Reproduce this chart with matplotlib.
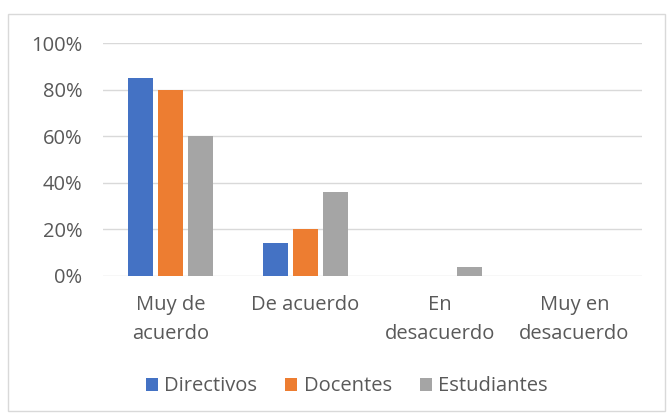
import numpy as np
import matplotlib.pyplot as plt
from matplotlib.patches import Rectangle
from matplotlib.ticker import PercentFormatter

categories = ["Muy de\nacuerdo", "De acuerdo", "En\ndesacuerdo", "Muy en\ndesacuerdo"]
directivos = [85, 14, 0, 0]
docentes = [80, 20, 0, 0]
estudiantes = [60, 36, 4, 0]

series = [("Directivos", directivos, "#4472c4"),
          ("Docentes", docentes, "#ed7d31"),
          ("Estudiantes", estudiantes, "#a5a5a5")]

plt.rcParams['font.family'] = ['Open Sans', 'DejaVu Sans']
txt = "#595959"
fs = 14.5

fig = plt.figure(figsize=(6.67, 4.2), dpi=100)
fig.patches.append(Rectangle((0.012, 0.022), 0.985, 0.945, transform=fig.transFigure,
                             fill=False, edgecolor="#d9d9d9", linewidth=1))
ax = fig.add_axes([0.1544, 0.3429, 0.808, 0.5547])

x = np.arange(len(categories))
w = 0.185
step = 0.223
for i, (name, vals, col) in enumerate(series):
    ax.bar(x + (i - 1) * step, vals, width=w, color=col, label=name, zorder=3)

ax.set_xlim(-0.5, 3.5)
ax.set_ylim(0, 100)
ax.set_yticks([0, 20, 40, 60, 80, 100])
ax.yaxis.set_major_formatter(PercentFormatter(decimals=0))
ax.grid(axis="y", color="#d9d9d9", linewidth=1, zorder=0)
for s in ax.spines.values():
    s.set_visible(False)
ax.tick_params(length=0, colors=txt, labelsize=fs)
ax.tick_params(axis="y", pad=15)
ax.set_xticks(x)
ax.set_xticklabels(categories, linespacing=1.6, va="top")
ax.tick_params(axis="x", pad=14)

fig.legend(loc="center", bbox_to_anchor=(0.52, 0.08), ncol=3, frameon=False,
           fontsize=fs, labelcolor=txt, handlelength=0.6, handleheight=0.6,
           handletextpad=0.3, columnspacing=1.4)

fig.savefig("out.png", dpi=100)
